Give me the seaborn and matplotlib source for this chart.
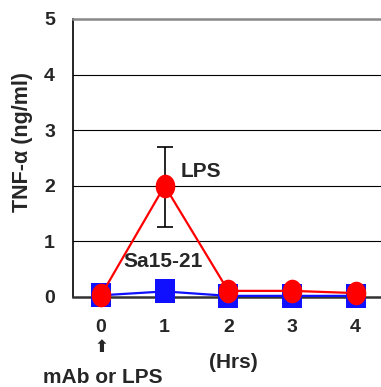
import numpy as np
import pandas as pd
import matplotlib
matplotlib.use("Agg")
import matplotlib.pyplot as plt
from matplotlib.path import Path
import seaborn as sns

# values
hours = [0, 1, 2, 3, 4]
lps = [0.03, 2.0, 0.11, 0.11, 0.07]
sa15 = [0.03, 0.10, 0.02, 0.02, 0.02]
lps_err_low = [0, 0.75, 0, 0, 0]
lps_err_high = [0, 0.70, 0, 0, 0]
y_ticks = [0, 1, 2, 3, 4, 5]

df = pd.DataFrame({
    "Hrs": hours * 2,
    "TNF": sa15 + lps,
    "group": ["Sa15-21"] * len(hours) + ["LPS"] * len(hours),
})

# slightly tall markers like the original
circ = Path.unit_circle()
tall_circle = Path(circ.vertices * [0.83, 1.0], circ.codes)
tall_square = Path([(-0.43, -0.5), (0.43, -0.5), (0.43, 0.5), (-0.43, 0.5), (-0.43, -0.5)],
                   [Path.MOVETO, Path.LINETO, Path.LINETO, Path.LINETO, Path.CLOSEPOLY])

sns.set_style("white")
plt.rcParams["font.family"] = ["Liberation Sans", "DejaVu Sans"]
plt.rcParams["font.weight"] = "bold"

fig = plt.figure(figsize=(3.81, 3.87), dpi=100)
ax = fig.add_axes([0.1916, 0.2326, 0.8084, 0.7184])

# grid lines
for y in y_ticks[1:-1]:
    ax.axhline(y, color="black", lw=0.8, zorder=0)

# error bar for LPS
ax.errorbar(hours, lps, yerr=[lps_err_low, lps_err_high], fmt="none",
            ecolor="black", elinewidth=1.2, capsize=5.5, capthick=1.2, zorder=2)

sns.lineplot(data=df, x="Hrs", y="TNF", hue="group", style="group",
             hue_order=["Sa15-21", "LPS"], style_order=["Sa15-21", "LPS"],
             palette={"Sa15-21": "#1010ff", "LPS": "#ff0000"},
             markers={"Sa15-21": tall_square, "LPS": tall_circle}, dashes=False,
             markersize=17, markeredgewidth=0, linewidth=1.6,
             legend=False, ax=ax, zorder=3, clip_on=False)

ax.set_xlim(-0.44, 4.40)
ax.set_ylim(0, 5)
ax.set_yticks(y_ticks)
ax.set_xticks(hours)
ax.set_xticks([0.5, 1.5, 2.5, 3.5], minor=True)
ax.tick_params(axis="y", length=0, pad=13, labelsize=14)
ax.tick_params(axis="x", which="major", length=0, pad=16, labelsize=14)
ax.tick_params(axis="x", which="minor", length=4, direction="inout",
               color="#444444")
for lab in ax.get_xticklabels() + ax.get_yticklabels():
    lab.set_fontweight("bold")

ax.spines["right"].set_visible(False)
ax.spines["left"].set_color("black")
ax.spines["left"].set_linewidth(1.2)
ax.spines["bottom"].set_color("#333333")
ax.spines["bottom"].set_linewidth(1.8)
ax.spines["top"].set_color("#888888")
ax.spines["top"].set_linewidth(1.8)

ax.set_xlabel("")
ax.set_ylabel("TNF-α (ng/ml)", fontsize=15.5, fontweight="bold")
ax.yaxis.set_label_coords(-0.13, 0.557)

ax.text(1.25, 2.25, "LPS", fontsize=15, fontweight="bold", va="center")
ax.text(0.97, 0.63, "Sa15-21", fontsize=15, fontweight="bold",
        va="center", ha="center")
ax.text(0.0, -0.90, "⬆", fontsize=12, ha="center", va="center",
        family=["DejaVu Sans"], clip_on=False)
ax.text(2.08, -1.17, "(Hrs)", fontsize=15, fontweight="bold",
        ha="center", va="center", clip_on=False)
ax.text(0.03, -1.44, "mAb or LPS", fontsize=15, fontweight="bold",
        ha="center", va="center", clip_on=False)

fig.savefig("out.png", dpi=100)
